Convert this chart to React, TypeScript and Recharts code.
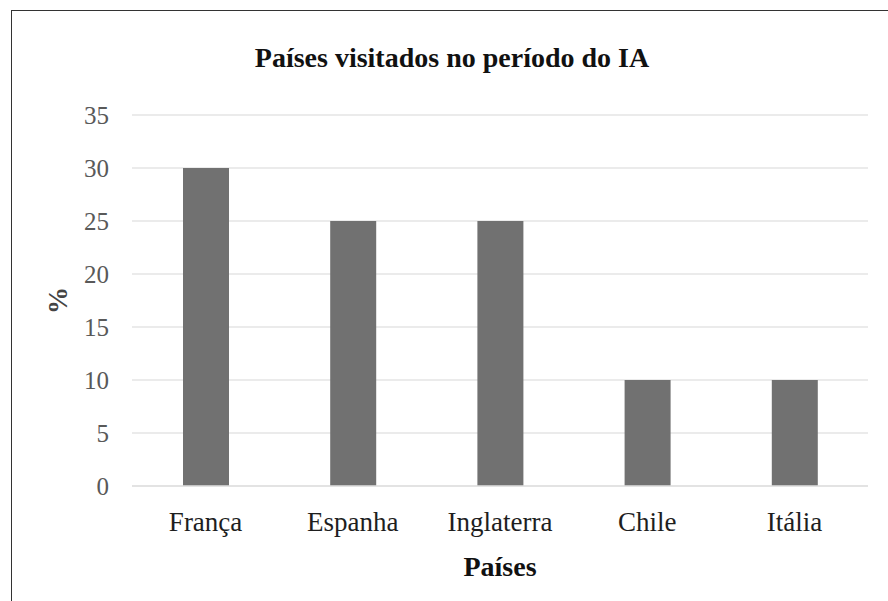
import React from "react";
import { BarChart, Bar, XAxis, YAxis, CartesianGrid } from "recharts";

const categories = ["França", "Espanha", "Inglaterra", "Chile", "Itália"];
const values = [30, 25, 25, 10, 10];
const yTicks = [0, 5, 10, 15, 20, 25, 30, 35];

const data = categories.map((c, i) => ({ name: c, value: values[i] }));

const FONT = "'Liberation Serif', 'DejaVu Serif', serif";

const XTick = (props: any) => {
  const { x, y, payload } = props;
  return (
    <text x={x} y={y} dy="0.71em" textAnchor="middle" fontFamily={FONT} fontSize={27} fill="#1e1e1e">
      {payload.value}
    </text>
  );
};

const YTick = (props: any) => {
  const { x, y, payload } = props;
  return (
    <text x={x} y={y} dy="0.355em" textAnchor="end" fontFamily={FONT} fontSize={25} fill="#595959">
      {payload.value}
    </text>
  );
};

export default function App() {
  return (
    <div style={{ position: "absolute", left: 0, top: 0, width: 888, height: 601, overflow: "hidden", background: "#fff" }}>
      <div
        style={{
          position: "absolute",
          left: 11,
          top: 10,
          width: 1000,
          height: 1000,
          borderLeft: "1px solid #333",
          borderTop: "1px solid #333",
        }}
      />
      <div style={{ position: "absolute", left: 0, top: 0 }}>
        <BarChart width={888} height={601} data={data} margin={{ top: 115, right: 20, left: 0, bottom: 0 }}>
          <CartesianGrid vertical={false} stroke="#e4e4e4" strokeWidth={1.5} />
          <XAxis
            dataKey="name"
            height={115}
            tickLine={false}
            tickSize={0}
            tickMargin={26}
            axisLine={{ stroke: "#e0e0e0", strokeWidth: 1.5 }}
            tick={<XTick />}
            interval={0}
            label={{
              content: (p: any) => {
                const vb = p.viewBox;
                return (
                  <text x={vb.x + vb.width / 2} y={vb.y + 90} textAnchor="middle" fontFamily={FONT} fontSize={28} fontWeight="bold" fill="#111">
                    Países
                  </text>
                );
              },
            }}
          />
          <YAxis
            width={132}
            domain={[0, 35]}
            ticks={yTicks}
            interval={0}
            tickLine={false}
            tickSize={0}
            tickMargin={23}
            axisLine={false}
            tick={<YTick />}
            label={{
              content: (p: any) => {
                const vb = p.viewBox;
                const cx = vb.x + 58;
                const cy = vb.y + vb.height / 2;
                return (
                  <text
                    x={cx}
                    y={cy}
                    transform={`rotate(-90, ${cx}, ${cy})`}
                    textAnchor="middle"
                    dominantBaseline="central"
                    fontFamily={FONT}
                    fontSize={27}
                    fontWeight="bold"
                    fill="#444"
                  >
                    %
                  </text>
                );
              },
            }}
          />
          <Bar dataKey="value" fill="#717171" barSize={46} isAnimationActive={false} />
        </BarChart>
      </div>
      <div
        style={{
          position: "absolute",
          left: 8,
          top: 40,
          width: 888,
          textAlign: "center",
          fontFamily: FONT,
          fontSize: 28,
          fontWeight: "bold",
          color: "#111",
          lineHeight: "36px",
        }}
      >
        Países visitados no período do IA
      </div>
    </div>
  );
}
